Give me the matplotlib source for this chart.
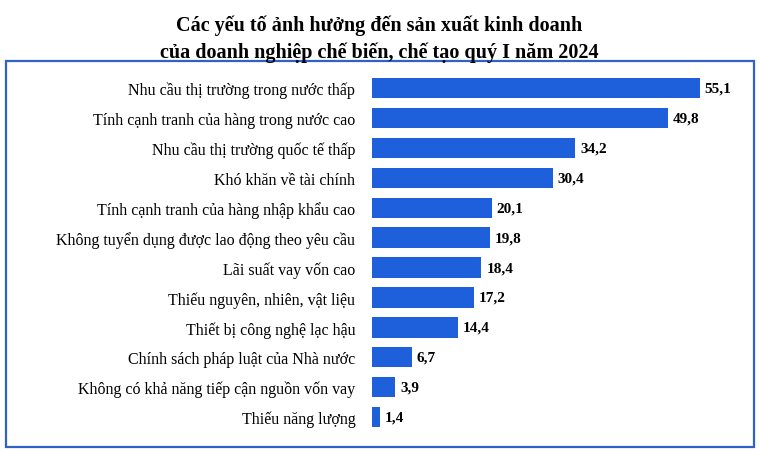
import matplotlib.pyplot as plt
from matplotlib.patches import Rectangle

categories = [
    "Nhu cầu thị trường trong nước thấp",
    "Tính cạnh tranh của hàng trong nước cao",
    "Nhu cầu thị trường quốc tế thấp",
    "Khó khăn về tài chính",
    "Tính cạnh tranh của hàng nhập khẩu cao",
    "Không tuyển dụng được lao động theo yêu cầu",
    "Lãi suất vay vốn cao",
    "Thiếu nguyên, nhiên, vật liệu",
    "Thiết bị công nghệ lạc hậu",
    "Chính sách pháp luật của Nhà nước",
    "Không có khả năng tiếp cận nguồn vốn vay",
    "Thiếu năng lượng",
]
values = [55.1, 49.8, 34.2, 30.4, 20.1, 19.8, 18.4, 17.2, 14.4, 6.7, 3.9, 1.4]

plt.rcParams["font.family"] = "Liberation Serif"
fig = plt.figure(figsize=(7.59, 4.52), dpi=100)
fig.text(0.5, 0.965, "Các yếu tố ảnh hưởng đến sản xuất kinh doanh\ncủa doanh nghiệp chế biến, chế tạo quý I năm 2024",
         ha="center", va="top", fontsize=14.5, fontweight="bold", linespacing=1.4)
fig.patches.append(Rectangle((6 / 759, 4 / 452), 748 / 759, 386 / 452, transform=fig.transFigure,
                             fill=False, edgecolor="#2F62C9", linewidth=1.6))

ax = fig.add_axes([372 / 759, 0.042, 382 / 759, 0.794])
y = list(range(len(values)))
ax.barh(y, values, height=0.68, color="#1E5FDC")
for yi, v in zip(y, values):
    ax.text(v + 0.8, yi, f"{v:.1f}".replace(".", ","), va="center", ha="left",
            fontsize=11, fontweight="bold")
ax.set_yticks(y)
ax.set_yticklabels(categories, fontsize=11.5)
ax.tick_params(axis="y", length=0, pad=12)
ax.set_xticks([])
ax.set_xlim(0, 64.2)
ax.set_ylim(11.5, -0.5)
for s in ax.spines.values():
    s.set_visible(False)
fig.savefig("out.png", dpi=100)
